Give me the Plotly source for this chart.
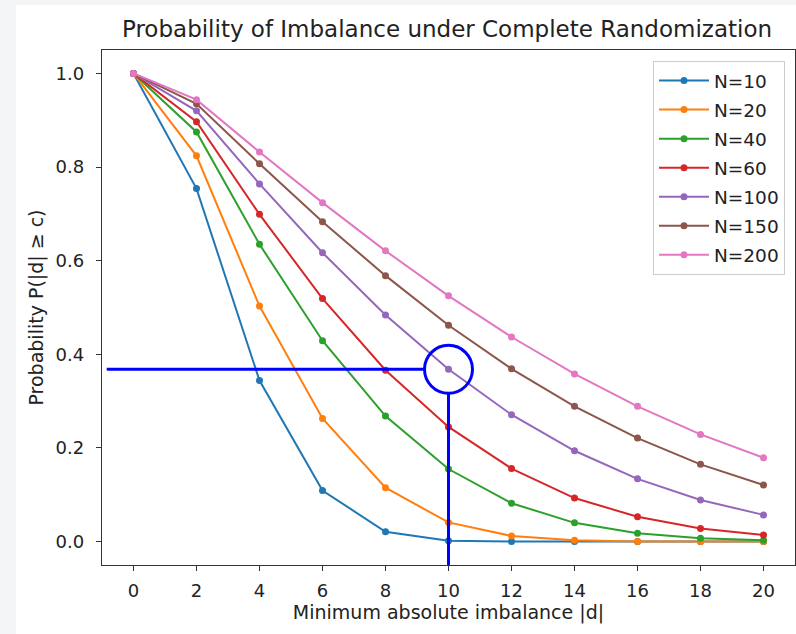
import plotly.graph_objects as go

# Minimum absolute imbalance thresholds c
thresholds = [0, 2, 4, 6, 8, 10, 12, 14, 16, 18, 20]

# P(|d| >= c) for each total sample size N
p_n10 = [1.0, 0.754, 0.344, 0.109, 0.021, 0.002, 0.0, 0.0, 0.0, 0.0, 0.0]
p_n20 = [1.0, 0.824, 0.503, 0.263, 0.115, 0.041, 0.012, 0.003, 0.0, 0.0, 0.0]
p_n40 = [1.0, 0.875, 0.635, 0.429, 0.268, 0.155, 0.082, 0.040, 0.018, 0.007, 0.003]
p_n60 = [1.0, 0.897, 0.699, 0.519, 0.366, 0.245, 0.156, 0.093, 0.053, 0.028, 0.014]
p_n100 = [1.0, 0.920, 0.764, 0.617, 0.484, 0.368, 0.271, 0.194, 0.134, 0.089, 0.057]
p_n150 = [1.0, 0.935, 0.807, 0.683, 0.568, 0.462, 0.369, 0.289, 0.221, 0.165, 0.121]
p_n200 = [1.0, 0.944, 0.832, 0.724, 0.621, 0.525, 0.437, 0.358, 0.289, 0.229, 0.179]

series_names = ["N=10", "N=20", "N=40", "N=60", "N=100", "N=150", "N=200"]
series_values = [p_n10, p_n20, p_n40, p_n60, p_n100, p_n150, p_n200]
colors = ["#1f77b4", "#ff7f0e", "#2ca02c", "#d62728", "#9467bd", "#8c564b", "#e377c2"]

# Highlighted point: N=100 at c=10
hl_x = 10
hl_y = 0.368

FONT = "DejaVu Sans"
TXT = "#222222"

fig = go.Figure()
for name, vals, col in zip(series_names, series_values, colors):
    fig.add_trace(go.Scatter(
        x=thresholds, y=vals, name=name, mode="lines+markers",
        line=dict(color=col, width=2),
        marker=dict(color=col, size=7),
        legendgroup=name,
    ))

W, H = 796, 634
ml, mr, mt, mb = 102, 1, 50, 69
pw, ph = W - ml - mr, H - mt - mb
x_rng = [-1, 21]
y_rng = [-0.05, 1.05]
px_per_x = pw / (x_rng[1] - x_rng[0])
px_per_y = ph / (y_rng[1] - y_rng[0])
r_px = 24
blue = "#0000ff"

shapes = [
    # light frame strips at the left and top page edges
    dict(type="rect", xref="paper", yref="paper", layer="below",
         x0=-ml / pw, x1=(16 - ml) / pw, y0=-mb / ph, y1=1 + mt / ph,
         fillcolor="#f4f5f7", line=dict(width=0)),
    dict(type="rect", xref="paper", yref="paper", layer="below",
         x0=-ml / pw, x1=1 + mr / pw, y0=1 + (mt - 5) / ph, y1=1 + mt / ph,
         fillcolor="#f4f5f7", line=dict(width=0)),
    # guide lines to the highlighted point
    dict(type="line", xref="x", yref="y", x0=-0.85, x1=hl_x - r_px / px_per_x,
         y0=hl_y, y1=hl_y, line=dict(color=blue, width=3)),
    dict(type="line", xref="x", yref="y", x0=hl_x, x1=hl_x,
         y0=y_rng[0], y1=hl_y - r_px / px_per_y, line=dict(color=blue, width=3)),
    dict(type="circle", xref="x", yref="y", xsizemode="pixel", ysizemode="pixel",
         xanchor=hl_x, yanchor=hl_y, x0=-r_px, x1=r_px, y0=-r_px, y1=r_px,
         line=dict(color=blue, width=3)),
]

axis_common = dict(
    showgrid=False, zeroline=False, showline=True, mirror=True,
    linecolor="#333333", linewidth=1.3,
    ticks="outside", ticklen=5, tickwidth=1, tickcolor="#333333",
    tickfont=dict(family=FONT, size=18, color=TXT),
)

fig.update_layout(
    width=W, height=H,
    margin=dict(l=ml, r=mr, t=mt, b=mb),
    paper_bgcolor="white", plot_bgcolor="white",
    font=dict(family=FONT, color=TXT),
    title=dict(text="Probability of Imbalance under Complete Randomization",
               x=(447 - ml) / pw, xref="paper", xanchor="center",
               y=1 - 29 / H, yanchor="middle",
               font=dict(family=FONT, size=23, color=TXT)),
    xaxis=dict(axis_common, range=x_rng, tickvals=thresholds, ticklabelstandoff=4,
               title=dict(text="Minimum absolute imbalance |d|", standoff=5,
                          font=dict(family=FONT, size=19, color=TXT))),
    yaxis=dict(axis_common, range=y_rng, tickvals=[0, 0.2, 0.4, 0.6, 0.8, 1.0],
               tickformat=".1f", ticklabelstandoff=8,
               title=dict(text="Probability P(|d| ≥ c)", standoff=6,
                          font=dict(family=FONT, size=19, color=TXT))),
    legend=dict(x=(785 - ml) / pw, y=1 - (61 - mt) / ph, xanchor="right", yanchor="top",
                bgcolor="rgba(255,255,255,0.9)", bordercolor="#cccccc", borderwidth=1,
                tracegroupgap=2, itemwidth=50,
                font=dict(family=FONT, size=18.5, color=TXT)),
    shapes=shapes,
    showlegend=True,
)

fig.write_html("out.html")
